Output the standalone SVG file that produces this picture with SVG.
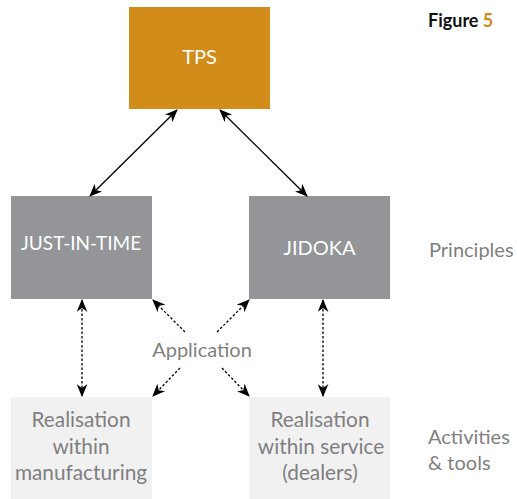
<svg xmlns="http://www.w3.org/2000/svg" width="517" height="499" viewBox="0 0 517 499">
<defs>
<marker id="ah" viewBox="0 0 12 10" refX="11" refY="5" markerWidth="13" markerHeight="11" markerUnits="userSpaceOnUse" orient="auto-start-reverse">
<path d="M0,0 L12,5 L0,10 L3.5,5 Z" fill="#000"/>
</marker>
</defs>
<style>
text{font-family:Lato,"Open Sans","Liberation Sans",sans-serif;font-size:20px;}
.w{fill:#ffffff;text-anchor:middle;}
.g{fill:#7f7f7f;text-anchor:middle;}
.b{font-size:20.8px;}
.lbl{fill:#7f7f7f;}
.solid{stroke:#000;stroke-width:1.3;fill:none;}
.dot{stroke:#000;stroke-width:1.3;fill:none;stroke-dasharray:2.5,2;}
</style>
<rect width="517" height="499" fill="#fff"/>
<g id="tps"><rect x="129" y="7" width="141" height="102" fill="#d18c1a"/><text class="w" x="199.5" y="64">TPS</text></g>
<g id="jit"><rect x="11" y="196" width="141" height="103" fill="#939598"/><text class="w" x="81" y="250" style="font-size:19px">JUST-IN-TIME</text></g>
<g id="jidoka"><rect x="249" y="196" width="141" height="103" fill="#939598"/><text class="w" x="319.5" y="255">JIDOKA</text></g>
<g id="manuf"><rect x="11" y="397" width="141" height="102" fill="#f1f1f2"/><text class="g b" x="81" y="427">Realisation</text><text class="g b" x="81" y="454">within</text><text class="g b" x="81" y="480">manufacturing</text></g>
<g id="service"><rect x="249" y="397" width="141" height="102" fill="#f1f1f2"/><text class="g b" x="320" y="427">Realisation</text><text class="g b" x="321" y="454">within service</text><text class="g b" x="320" y="480">(dealers)</text></g>
<g id="labels">
<text x="428" y="27" style="font-weight:bold;font-size:18px;fill:#111">Figure <tspan fill="#d18c1a">5</tspan></text>
<text class="lbl" x="429" y="257">Principles</text>
<text class="lbl" x="428" y="444">Activities</text>
<text class="lbl" x="428" y="470">&amp; tools</text>
<text class="g" x="202" y="357">Application</text>
</g>
<g id="connectors">
<line class="solid" x1="177" y1="110" x2="90" y2="196" marker-start="url(#ah)" marker-end="url(#ah)"/>
<line class="solid" x1="220" y1="110" x2="307" y2="196" marker-start="url(#ah)" marker-end="url(#ah)"/>
<line class="dot" x1="82" y1="300" x2="82" y2="396" marker-start="url(#ah)" marker-end="url(#ah)"/>
<line class="dot" x1="323" y1="300" x2="323" y2="396" marker-start="url(#ah)" marker-end="url(#ah)"/>
<line class="dot" x1="185" y1="332" x2="153" y2="300" marker-end="url(#ah)"/>
<line class="dot" x1="217" y1="332" x2="249" y2="300" marker-end="url(#ah)"/>
<line class="dot" x1="180" y1="368" x2="153" y2="396" marker-end="url(#ah)"/>
<line class="dot" x1="222" y1="368" x2="249" y2="396" marker-end="url(#ah)"/>
</g>
</svg>
